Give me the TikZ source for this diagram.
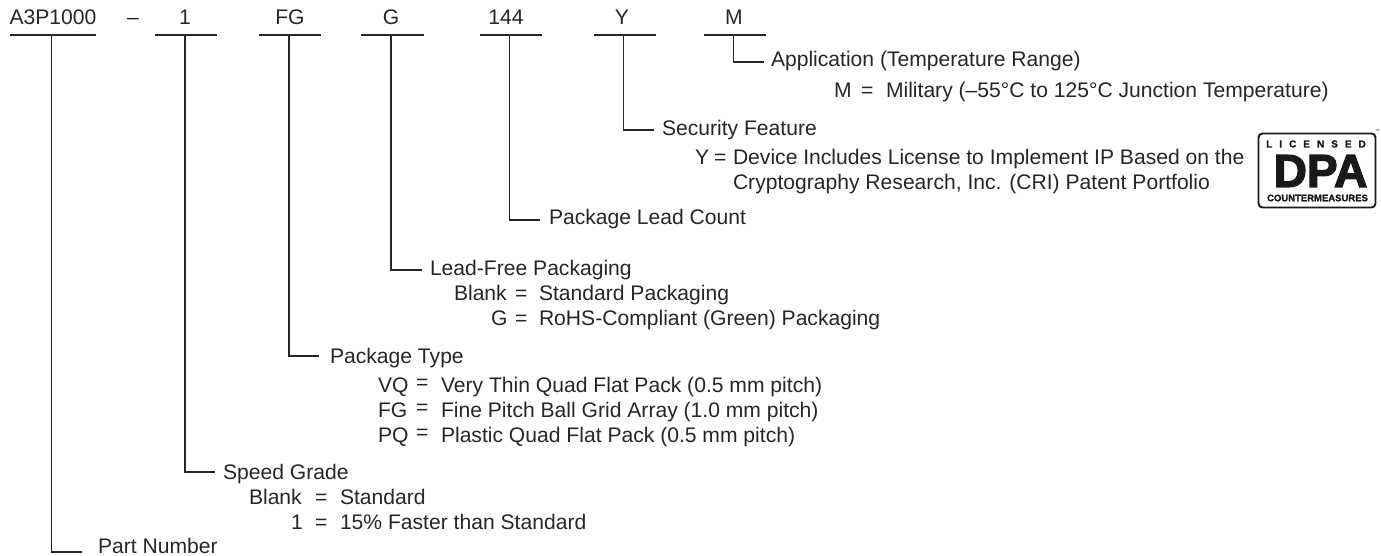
\documentclass[tikz,border=0pt]{standalone}
\usepackage{fontspec}
\setmainfont{Liberation Sans}
\tikzset{
  px/.style={x=1pt,y=-1pt},
  lbl/.style={anchor=base west,inner sep=0pt,outer sep=0pt,text=black!85,font=\fontsize{21.1}{24}\selectfont},
  head/.style={anchor=base,inner sep=0pt,outer sep=0pt,text=black!85,font=\fontsize{21.1}{24}\selectfont},
  rule/.style={draw=black!85,line width=1.9pt},
  elbow/.style={draw=black!85,line width=1.9pt,line join=miter},
  logo/.style={anchor=center,inner sep=0pt,outer sep=0pt,text=black!90}
}
\begin{document}
\begin{tikzpicture}[px]
\useasboundingbox (0,0) rectangle (1381,556);
% heads
\node[head] (hA) at (53,25) {A3P1000};
\node[head] (hd) at (133,25) {–};
\node[head] (h1) at (185,25) {1};
\node[head] (hF) at (290,25) {FG};
\node[head] (hG) at (391,25) {G};
\node[head] (h4) at (506,25) {144};
\node[head] (hY) at (622,25) {Y};
\node[head] (hM) at (734,25) {M};
% underlines
\foreach \n/\a/\b/\c in {A/10/96/51.5,B/155/217/185,C/259/321/289,D/361/424/391,E/480/542/509.5,F/594/656/623.5,G/704/766/733.5}{
  \coordinate (u\n l) at (\a,34.7);
  \coordinate (u\n r) at (\b,34.7);
  \coordinate (u\n c) at (\c,34.7);
  \draw[rule] (u\n l) -- (u\n r);
}
% labels
\node[lbl] (tA) at (98,553) {Part Number};
\node[lbl] (tB) at (223,479) {Speed Grade};
\node[lbl] (tB1) at (249,504) {Blank};
\node[lbl] (tB1q) at (315,504) {=};
\node[lbl] (tB1e) at (340,504) {Standard};
\node[lbl] (tB2) at (291,529) {1};
\node[lbl] (tB2q) at (315,529) {=};
\node[lbl] (tB2e) at (340,529) {15\% Faster than Standard};
\node[lbl] (tC) at (330,363) {Package Type};
\node[lbl] (tC1) at (378,392) {VQ};
\node[lbl] (tC1q) at (416,389.5) {=};
\node[lbl] (tC1e) at (441,392) {Very Thin Quad Flat Pack (0.5 mm pitch)};
\node[lbl] (tC2) at (378,417) {FG};
\node[lbl] (tC2q) at (416,414.5) {=};
\node[lbl] (tC2e) at (441,417) {Fine Pitch Ball Grid Array (1.0 mm pitch)};
\node[lbl] (tC3) at (378,442) {PQ};
\node[lbl] (tC3q) at (416,439.5) {=};
\node[lbl] (tC3e) at (441,442) {Plastic Quad Flat Pack (0.5 mm pitch)};
\node[lbl] (tD) at (430,275) {Lead-Free Packaging};
\node[lbl] (tD1) at (454,300) {Blank};
\node[lbl] (tD1q) at (515,300) {=};
\node[lbl] (tD1e) at (539,300) {Standard Packaging};
\node[lbl] (tD2) at (491,325) {G};
\node[lbl] (tD2q) at (515,325) {=};
\node[lbl] (tD2e) at (539,325) {RoHS-Compliant (Green) Packaging};
\node[lbl] (tE) at (549,225) {Package Lead Count};
\node[lbl] (tF) at (662,136) {Security Feature};
\node[lbl] (tF1) at (695,165) {Y};
\node[lbl] (tF1q) at (714,165) {=};
\node[lbl] (tF1e) at (733,165) {Device Includes License to Implement IP Based on the};
\node[lbl] (tF2) at (733,190) {Cryptography Research, Inc. (CRI) Patent Portfolio};
\node[lbl] (tG) at (771,67) {Application (Temperature Range)};
\node[lbl] (tG1) at (834,98) {M};
\node[lbl] (tG1q) at (861,98) {=};
\node[lbl] (tG1e) at (886,98) {Military (–55°C to 125°C Junction Temperature)};
% connectors
\foreach \n/\y/\e in {A/552/82,B/472/215,C/356/319,D/270/422,E/220/540,F/130/654,G/62/764}{
  \coordinate (e\n) at (\e,\y);
  \draw[elbow] (u\n c) |- (e\n);
}
% logo
\coordinate (lo1) at (1258.5,133.5);
\coordinate (lo2) at (1375.5,207.5);
\draw[draw=black!90,line width=1.9pt,rounded corners=4pt] (lo1) rectangle (lo2);
\node[logo,font=\bfseries\fontsize{10}{10}\selectfont\addfontfeature{FakeBold=1.5}] (lgA) at (1316,144) {L\kern7pt I\kern7pt C\kern7pt E\kern7pt N\kern7pt S\kern7pt E\kern7pt D};
\node[logo,font=\bfseries\fontsize{46}{46}\selectfont\addfontfeature{FakeBold=3}] (lgB) at (1320.5,171) {DPA};
\node[logo,font=\bfseries\fontsize{9.5}{10}\selectfont\addfontfeature{FakeBold=1.5}] (lgC) at (1317.5,198) {COUNTERMEASURES};
\node[logo,font=\fontsize{4}{4}\selectfont] (lgT) at (1377.5,131) {™};
\end{tikzpicture}
\end{document}
